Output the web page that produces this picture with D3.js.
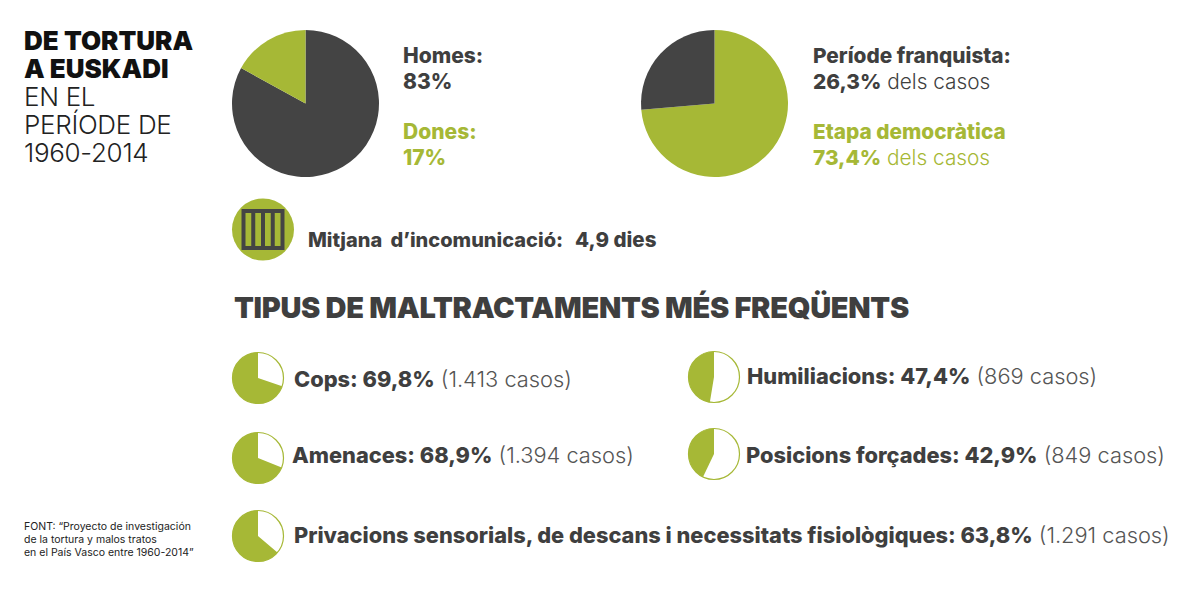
<!DOCTYPE html>
<html>
<head>
<meta charset="utf-8">
<script src="https://cdn.jsdelivr.net/npm/d3@7"></script>
<style>
  html, body { margin: 0; padding: 0; background: #ffffff; }
  svg { display: block; }
  text { font-family: Inter, "Noto Sans", sans-serif; }
</style>
</head>
<body>
<svg id="chart" width="1200" height="600"></svg>
<script>
// ---------- DATA ----------
const titleBold = ["DE TORTURA", "A EUSKADI"];
const titleLight = ["EN EL", "PERÍODE DE", "1960-2014"];

const genderLabels = ["Homes", "Dones"];
const genderValues = [83, 17];

const periodLabels = ["Període franquista", "Etapa democràtica"];
const periodValues = [26.3, 73.4];

const incomLabel = "Mitjana d’incomunicació:";
const incomDays = 4.9;

const abuseTitle = "TIPUS DE MALTRACTAMENTS MÉS FREQÜENTS";
const abuseTypes = ["Cops", "Amenaces", "Privacions sensorials, de descans i necessitats fisiològiques", "Humiliacions", "Posicions forçades"];
const abusePct = [69.8, 68.9, 63.8, 47.4, 42.9];
const abuseCases = [1413, 1394, 1291, 869, 849];

const sourceLines = ["FONT: “Proyecto de investigación", "de la tortura y malos tratos", "en el País Vasco entre 1960-2014”"];

// ---------- STYLE / LAYOUT ----------
const DARK = "#444444";
const GREEN = "#a6b836";
const TEXT = "#3f3f3f";
const LIGHT = "#555555";

const loc = d3.formatLocale({decimal: ",", thousands: ".", grouping: [3], currency: ["", "€"]});
const fPct = loc.format(".1f");
const fInt = loc.format(",d");

const svg = d3.select("#chart");

// Title
const title = svg.append("g").attr("transform", "translate(24,0)");
titleBold.forEach((t, i) => {
  title.append("text").attr("x", 0).attr("y", 50 + i * 28)
    .attr("font-size", 26).attr("font-weight", 900).attr("fill", "#111").text(t);
});
titleLight.forEach((t, i) => {
  title.append("text").attr("x", 0).attr("y", 106 + i * 28)
    .attr("font-size", 26).attr("font-weight", 300).attr("fill", "#222").attr("letter-spacing", -0.3).text(t);
});

// Big pies
const bigR = 73.5;
const arcBig = d3.arc().innerRadius(0).outerRadius(bigR);

// Gender pie: homes first clockwise from top
const pieG = d3.pie().sort(null).value(d => d.v);
const genderData = genderLabels.map((l, i) => ({l, v: genderValues[i], c: i === 0 ? DARK : GREEN}));
const g1 = svg.append("g").attr("transform", "translate(305.5,103.5)");
g1.selectAll("path").data(pieG(genderData)).join("path")
  .attr("d", arcBig).attr("fill", d => d.data.c);

// Period pie: democratic first clockwise from top
const periodData = periodLabels.map((l, i) => ({l, v: periodValues[i], c: i === 0 ? DARK : GREEN})).reverse();
const g2 = svg.append("g").attr("transform", "translate(714.5,103.5)");
g2.selectAll("path").data(pieG(periodData)).join("path")
  .attr("d", arcBig).attr("fill", d => d.data.c);

// Gender labels
const gl = svg.append("g").attr("transform", "translate(403,0)");
genderLabels.forEach((l, i) => {
  const col = i === 0 ? TEXT : GREEN;
  const y0 = 63 + i * 76;
  gl.append("text").attr("y", y0).attr("font-size", 21).attr("font-weight", 800).attr("fill", col).text(l + ":");
  gl.append("text").attr("y", y0 + 26).attr("font-size", 21).attr("font-weight", 800).attr("fill", col).text(genderValues[i] + "%");
});

// Period labels
const pl = svg.append("g").attr("transform", "translate(813,0)");
periodLabels.forEach((l, i) => {
  const col = i === 0 ? TEXT : GREEN;
  const y0 = 63 + i * 76;
  pl.append("text").attr("y", y0).attr("font-size", 20.8).attr("font-weight", 800).attr("fill", col)
    .text(l + (i === 0 ? ":" : ""));
  const t = pl.append("text").attr("y", y0 + 26).attr("font-size", 20.8).attr("fill", col);
  t.append("tspan").attr("font-weight", 800).text(fPct(periodValues[i]) + "%");
  t.append("tspan").attr("font-weight", 300).text(" dels casos");
});

// Jail icon
const icon = svg.append("g").attr("transform", "translate(263,229.5)");
icon.append("circle").attr("r", 31).attr("fill", GREEN);
const bw = 39, bh = 37;
icon.append("rect").attr("x", -bw / 2).attr("y", -bh / 2).attr("width", bw).attr("height", bh)
  .attr("fill", "none").attr("stroke", DARK).attr("stroke-width", 4);
const barX = d3.scaleLinear().domain([0, 4]).range([-bw / 2, bw / 2]);
icon.selectAll("line.bar").data([1, 2, 3]).join("line").attr("class", "bar")
  .attr("x1", d => barX(d)).attr("x2", d => barX(d))
  .attr("y1", -bh / 2).attr("y2", bh / 2)
  .attr("stroke", DARK).attr("stroke-width", 4);

const it = svg.append("text").attr("x", 308).attr("y", 247).attr("font-size", 20).attr("font-weight", 800).attr("fill", TEXT);
it.append("tspan").attr("word-spacing", 4).text(incomLabel);
it.append("tspan").attr("dx", 12).attr("font-size", 20.5).text(fPct(incomDays) + " dies");

// Section title
svg.append("text").attr("x", 234).attr("y", 318).attr("font-size", 29).attr("font-weight", 900)
  .attr("fill", TEXT).attr("letter-spacing", -0.3).text(abuseTitle);

// Small pies
const smallLayout = [
  {cx: 258, cy: 378, tx: 294, ty: 387},
  {cx: 258, cy: 458, tx: 292, ty: 463},
  {cx: 258, cy: 536, tx: 294, ty: 543},
  {cx: 714, cy: 377, tx: 747, ty: 384},
  {cx: 714, cy: 454, tx: 746, ty: 463}
];
const smallR = 25.5;
const arcSmall = d3.arc().innerRadius(0).outerRadius(smallR);
const pieS = d3.pie().sort(null);

abuseTypes.forEach((name, i) => {
  const L = smallLayout[i];
  const g = svg.append("g").attr("transform", `translate(${L.cx},${L.cy})`);
  const arcs = pieS([100 - abusePct[i], abusePct[i]]);
  g.append("circle").attr("r", smallR).attr("fill", "#fff").attr("stroke", GREEN).attr("stroke-width", 1.2);
  g.append("path").attr("d", arcSmall(arcs[1])).attr("fill", GREEN);

  const t = svg.append("text").attr("x", L.tx).attr("y", L.ty).attr("font-size", 21.8);
  t.append("tspan").attr("font-weight", 800).attr("fill", TEXT).text(name + ": " + fPct(abusePct[i]) + "%");
  t.append("tspan").attr("font-weight", 300).attr("fill", LIGHT).text(" (" + fInt(abuseCases[i]) + " casos)");
});

// Source
const src = svg.append("g").attr("transform", "translate(24,0)");
sourceLines.forEach((s, i) => {
  src.append("text").attr("y", 530 + i * 13).attr("font-size", 10.5).attr("font-family", "Roboto, sans-serif")
    .attr("fill", "#222").text(s);
});
</script>
</body>
</html>
